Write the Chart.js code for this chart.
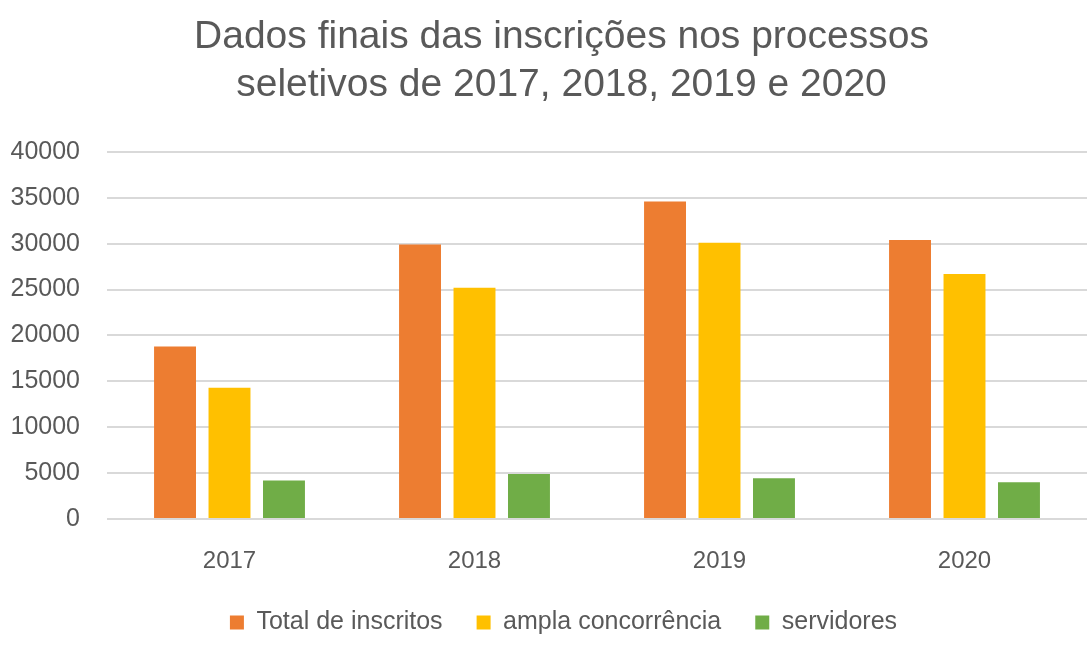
<!DOCTYPE html>
<html>
<head>
<meta charset="utf-8">
<script src="https://cdn.jsdelivr.net/npm/chart.js@4"></script>
<style>
html,body{margin:0;padding:0;background:#fff;}
#wrap{width:1087px;height:663px;}
</style>
</head>
<body>
<div id="wrap"><canvas id="c" width="1087" height="663"></canvas></div>
<script>
const categories = ['2017', '2018', '2019', '2020'];
const totalInscritos = [18800, 29900, 34600, 30400];
const amplaConcorrencia = [14300, 25200, 30100, 26700];
const servidores = [4200, 4900, 4450, 4000];
const yTicks = [0, 5000, 10000, 15000, 20000, 25000, 30000, 35000, 40000];
const titleLines = ['Dados finais das inscrições nos processos', 'seletivos de 2017, 2018, 2019 e 2020'];

const FONT = "'Liberation Sans', Arial, sans-serif";
const TXT = '#595959';

// Title and legend in the reference are centred a little right of the canvas centre
const shiftBlocks = {
  id: 'shiftBlocks',
  afterLayout(chart) {
    if (chart.titleBlock) chart.titleBlock.left = 36;
    if (chart.legend) chart.legend.left = 40;
  }
};

new Chart(document.getElementById('c'), {
  type: 'bar',
  data: {
    labels: categories,
    datasets: [
      { label: 'Total de inscritos', data: totalInscritos, backgroundColor: '#ED7D31' },
      { label: 'ampla concorrência', data: amplaConcorrencia, backgroundColor: '#FFC000' },
      { label: 'servidores', data: servidores, backgroundColor: '#70AD47' }
    ]
  },
  plugins: [shiftBlocks],
  options: {
    responsive: false,
    animation: false,
    datasets: { bar: { categoryPercentage: 0.667, barPercentage: 0.77 } },
    layout: { padding: { top: 13, left: 0, right: 0, bottom: 18 } },
    plugins: {
      title: {
        display: true,
        text: titleLines,
        color: TXT,
        font: { family: FONT, size: 39, weight: 'normal', lineHeight: 1.23 },
        padding: { top: 0, bottom: 43 }
      },
      legend: {
        position: 'bottom',
        labels: {
          color: TXT,
          font: { family: FONT, size: 25 },
          boxWidth: 14,
          boxHeight: 14,
          padding: 34
        }
      },
      tooltip: { enabled: false }
    },
    scales: {
      x: {
        grid: { display: false },
        border: { display: false },
        ticks: { color: TXT, font: { family: FONT, size: 24 }, padding: 20 },
        afterFit: (axis) => { axis.height = 57; }
      },
      y: {
        min: 0,
        max: 40000,
        afterBuildTicks: (axis) => { axis.ticks = yTicks.map(v => ({ value: v })); },
        grid: { color: '#D9D9D9', lineWidth: 2, drawTicks: false },
        border: { display: false },
        ticks: { color: TXT, font: { family: FONT, size: 25 }, padding: 27, callback: v => String(v) },
        afterFit: (axis) => { axis.width = 107; }
      }
    }
  }
});
</script>
</body>
</html>
